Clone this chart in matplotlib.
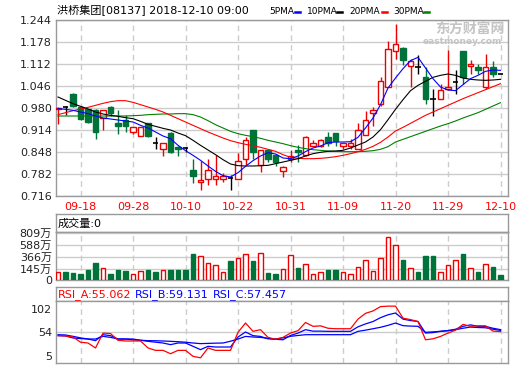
import matplotlib
matplotlib.use("Agg")
import matplotlib.pyplot as plt
from matplotlib.lines import Line2D

plt.rcParams['font.family'] = ['DejaVu Sans', 'Noto Sans CJK SC']

# candle data, one entry per trading day
opens = [0.977, 0.983, 1.023, 0.983, 0.976, 0.975, 0.950, 0.984, 0.936, 0.943,
         0.908, 0.896, 0.934, 0.875, 0.858, 0.906, 0.864, 0.860, 0.795, 0.758,
         0.767, 0.767, 0.767, 0.770, 0.767, 0.828, 0.915, 0.810, 0.854, 0.840,
         0.792, 0.828, 0.854, 0.838, 0.865, 0.865, 0.894, 0.906, 0.865, 0.865,
         0.858, 0.898, 0.966, 0.992, 1.044, 1.150, 1.161, 1.106, 1.103, 1.073,
         1.006, 1.006, 1.036, 1.058, 1.152, 1.106, 1.103, 1.043, 1.103, 1.083]
highs = [0.983, 0.986, 1.026, 0.985, 0.978, 0.976, 0.975, 0.985, 0.974, 0.958,
         0.923, 0.923, 0.936, 0.893, 0.875, 0.907, 0.866, 0.862, 0.826, 0.822,
         0.828, 0.838, 0.786, 0.780, 0.846, 0.892, 0.915, 0.853, 0.856, 0.842,
         0.806, 0.853, 0.868, 0.896, 0.883, 0.886, 0.908, 0.906, 0.876, 0.886,
         0.935, 0.970, 0.983, 1.073, 1.181, 1.232, 1.163, 1.128, 1.140, 1.103,
         1.036, 1.053, 1.153, 1.093, 1.152, 1.123, 1.113, 1.143, 1.121, 1.083]
lows = [0.932, 0.960, 0.983, 0.944, 0.935, 0.886, 0.913, 0.956, 0.903, 0.908,
        0.903, 0.896, 0.894, 0.858, 0.836, 0.846, 0.836, 0.848, 0.756, 0.735,
        0.748, 0.748, 0.758, 0.735, 0.766, 0.808, 0.828, 0.788, 0.818, 0.806,
        0.774, 0.818, 0.818, 0.836, 0.865, 0.862, 0.866, 0.866, 0.858, 0.858,
        0.858, 0.898, 0.926, 0.986, 1.044, 1.128, 1.108, 1.043, 1.083, 0.993,
        0.956, 1.006, 1.033, 1.023, 1.053, 1.083, 1.083, 1.038, 1.073, 1.083]
closes = [0.981, 0.983, 0.985, 0.946, 0.938, 0.907, 0.974, 0.964, 0.925, 0.926,
          0.923, 0.923, 0.896, 0.875, 0.875, 0.848, 0.856, 0.860, 0.777, 0.763,
          0.793, 0.776, 0.776, 0.770, 0.822, 0.883, 0.847, 0.853, 0.828, 0.818,
          0.804, 0.836, 0.848, 0.894, 0.875, 0.884, 0.876, 0.880, 0.876, 0.876,
          0.915, 0.945, 0.975, 1.060, 1.158, 1.171, 1.123, 1.121, 1.103, 1.006,
          1.006, 1.035, 1.043, 1.058, 1.073, 1.113, 1.093, 1.103, 1.083, 1.083]

ma5 = [0.978, 0.976, 0.973, 0.968, 0.963, 0.956, 0.950, 0.947, 0.944, 0.941,
       0.938, 0.928, 0.920, 0.908, 0.896, 0.888, 0.868, 0.852, 0.838, 0.823,
       0.806, 0.790, 0.777, 0.773, 0.786, 0.805, 0.822, 0.836, 0.846, 0.842,
       0.830, 0.828, 0.836, 0.849, 0.860, 0.866, 0.876, 0.878, 0.878, 0.879,
       0.892, 0.920, 0.950, 0.990, 1.040, 1.070, 1.098, 1.122, 1.132, 1.100,
       1.068, 1.043, 1.034, 1.032, 1.050, 1.068, 1.078, 1.090, 1.094, 1.093]
ma10 = [1.013, 1.003, 0.993, 0.985, 0.977, 0.968, 0.962, 0.958, 0.955, 0.951,
        0.948, 0.940, 0.931, 0.925, 0.919, 0.914, 0.905, 0.897, 0.883, 0.868,
        0.854, 0.840, 0.825, 0.812, 0.807, 0.806, 0.806, 0.807, 0.808, 0.813,
        0.818, 0.823, 0.828, 0.836, 0.843, 0.847, 0.850, 0.851, 0.853, 0.860,
        0.869, 0.878, 0.893, 0.915, 0.945, 0.976, 1.005, 1.032, 1.048, 1.060,
        1.072, 1.078, 1.082, 1.078, 1.070, 1.066, 1.064, 1.063, 1.064, 1.066]
ma20 = [0.960, 0.966, 0.972, 0.977, 0.982, 0.988, 0.994, 0.999, 1.002, 1.002,
        0.997, 0.990, 0.983, 0.976, 0.968, 0.958, 0.948, 0.938, 0.928, 0.918,
        0.908, 0.899, 0.890, 0.882, 0.876, 0.871, 0.867, 0.862, 0.856, 0.850,
        0.840, 0.832, 0.829, 0.828, 0.828, 0.829, 0.831, 0.834, 0.838, 0.843,
        0.849, 0.856, 0.865, 0.877, 0.893, 0.911, 0.922, 0.934, 0.946, 0.958,
        0.968, 0.978, 0.988, 0.998, 1.008, 1.017, 1.026, 1.035, 1.044, 1.053]
ma30 = [0.956, 0.956, 0.956, 0.956, 0.956, 0.956, 0.956, 0.956, 0.956, 0.956,
        0.957, 0.958, 0.960, 0.961, 0.962, 0.962, 0.963, 0.963, 0.960, 0.953,
        0.942, 0.930, 0.920, 0.910, 0.903, 0.898, 0.894, 0.889, 0.883, 0.878,
        0.873, 0.867, 0.862, 0.858, 0.855, 0.853, 0.851, 0.850, 0.849, 0.849,
        0.849, 0.850, 0.852, 0.856, 0.864, 0.878, 0.886, 0.894, 0.902, 0.910,
        0.918, 0.926, 0.933, 0.941, 0.950, 0.958, 0.966, 0.976, 0.986, 0.996]

# volume in 万, and bar colour (r = up, g = down)
volume = [96, 103, 84, 66, 133, 266, 163, 60, 133, 115,
          60, 109, 133, 96, 127, 133, 133, 133, 424, 382,
          260, 218, 96, 297, 345, 418, 297, 436, 84, 60,
          145, 400, 163, 236, 54, 90, 127, 127, 90, 54,
          181, 309, 109, 345, 728, 582, 315, 163, 96, 388,
          388, 90, 218, 309, 424, 163, 96, 236, 187, 42]
vol_side = "rggggg" "rgggrr" "ggrggg" "grrrrg" "rrgrgg" "rrgrrr" "ggrrrr" "rrrrgr" "gggrrr" "grgrgg"

rsi_a = [46.6, 46, 43.8, 33, 31.3, 21, 52, 51, 37, 35.5,
         35.5, 35.5, 21, 16, 16, 9, 16, 16, 3.6, 0.5,
         21, 16, 16, 16, 53.5, 72.9, 55.6, 59, 43, 39,
         43, 52, 57, 74, 66, 67, 62, 61, 61, 61,
         81, 93, 98, 107, 108, 108, 83, 80, 76, 38,
         40, 45, 52, 58, 70, 66, 67, 67, 56, 55.062]
rsi_b = [46.6, 46, 41.7, 40.5, 39.6, 36.2, 48.6, 46.6, 39.6, 39.6,
         39.6, 37, 34.8, 33, 31.3, 27.9, 31.3, 31.3, 24.4, 17.5,
         24.4, 23, 23, 23, 43.8, 54.2, 46.6, 45, 40, 39,
         38, 47, 52, 59, 56, 56, 55.6, 55.6, 55.6, 55.6,
         65, 71, 76, 84, 90, 93.7, 81, 78, 76, 52,
         53, 55.6, 57, 60, 66, 69, 66, 66, 62, 59.131]
rsi_c = [48.6, 48, 45.2, 42, 39.6, 39.6, 45.2, 43, 39.6, 39.6,
         38, 37, 36.2, 36, 35.5, 34.8, 34, 33, 31.3, 30,
         30.5, 31, 31.3, 35, 39.6, 45, 43.8, 43, 41, 39.6,
         42, 45.2, 47, 48.6, 48.6, 48.6, 48.6, 48.6, 48.6, 48.6,
         55.6, 58, 61, 64, 68, 72.9, 67.4, 66.5, 66, 53.5,
         54.5, 55.6, 57, 59, 62, 64.5, 63.5, 63, 60, 57.457]

date_idx = [3, 10, 17, 24, 31, 38, 45, 52, 59]
date_labels = ['09-18', '09-28', '10-10', '10-22', '10-31', '11-09', '11-20', '11-29', '12-10']
price_ticks = [0.716, 0.782, 0.848, 0.914, 0.980, 1.046, 1.112, 1.178, 1.244]
vol_ticks = [145, 366, 588, 809]
rsi_ticks = [5, 54, 102]

RED = '#ee0000'
GREEN = '#00733a'
GRID = '#cccccc'
BORDER = '#999999'
W, H = 520, 365

fig = plt.figure(figsize=(W / 100, H / 100), dpi=100)


def panel(l, t, r, b):
    ax = fig.add_axes([l / W, 1 - b / H, (r - l) / W, (b - t) / H])
    for s in ax.spines.values():
        s.set_color(BORDER)
        s.set_linewidth(1)
    ax.set_xlim(-0.27, 60.0)
    return ax


def vdash(ax):
    for i in date_idx:
        ax.axvline(i, color=GRID, lw=1, ls=(0, (4, 3)), zorder=0)


x = list(range(len(closes)))

# ---- price panel
ax = panel(56, 20, 508, 196)
ax.set_ylim(0.716, 1.244)
ax.set_yticks(price_ticks, [f'{v:.3f}' for v in price_ticks])
ax.set_xticks(date_idx, date_labels)
ax.tick_params(axis='y', length=0, pad=3, labelsize=8, labelcolor='#222222')
ax.tick_params(axis='x', length=0, pad=4, labelsize=8, labelcolor='red')
ax.yaxis.grid(True, color=GRID, lw=1, zorder=0)
ax.set_axisbelow(True)
vdash(ax)

for i in x:
    o, h, l, c = opens[i], highs[i], lows[i], closes[i]
    if c > o:
        col = RED
    elif c < o:
        col = GREEN
    else:
        col = 'black'
    ax.vlines(i, l, h, color=col, lw=1, zorder=2)
    if c == o:
        ax.hlines(o, i - 0.38, i + 0.38, color=col, lw=1.2, zorder=3)
    else:
        ax.bar(i, abs(c - o), bottom=min(o, c), width=0.72,
               facecolor='white' if c > o else GREEN, edgecolor=col, lw=1, zorder=3)

ax.plot(x, ma30, color='#008000', lw=0.8, zorder=4)
ax.plot(x, ma20, color='#ff0000', lw=0.8, zorder=4)
ax.plot(x, ma10, color='black', lw=0.8, zorder=4)
ax.plot(x, ma5, color='#0000ff', lw=0.8, zorder=4)

# header line and legend
fig.text(57 / W, 1 - 11 / H, '洪桥集团[08137] 2018-12-10 09:00', fontsize=8, va='center')
legend = [('5PMA', 269, 295, '#0000ff'), ('10PMA', 307, 337, 'black'),
          ('20PMA', 349, 382, '#ff0000'), ('30PMA', 393, 424, '#008000')]
for name, tx, dx, col in legend:
    fig.text(tx / W, 1 - 11 / H, name, fontsize=6.5, va='center')
    fig.add_artist(Line2D([dx / W, (dx + 5) / W], [1 - 12 / H, 1 - 12 / H],
                          color=col, lw=1.8, transform=fig.transFigure))

# watermark
fig.text(470 / W, 1 - 29 / H, '东方财富网', fontsize=10, fontweight='bold',
         color='#c4c4c4', ha='center', va='center')
fig.text(462 / W, 1 - 41 / H, 'eastmoney.com', fontsize=6.5, fontweight='bold',
         color='#c4c4c4', ha='center', va='center')

# ---- volume panel
hv = panel(56, 214, 508, 232)
hv.set_xticks([])
hv.set_yticks([])
hv.text(0.004, 0.45, '成交量:0', transform=hv.transAxes, fontsize=8, va='center')

av = panel(56, 232, 508, 280)
vmin = -49
av.set_ylim(vmin, 825)
av.set_yticks([vmin] + vol_ticks, ['0'] + [f'{v}万' for v in vol_ticks])
av.set_xticks([])
av.tick_params(axis='y', length=0, pad=3, labelsize=8, labelcolor='#222222')
av.yaxis.grid(True, color=GRID, lw=1, zorder=0)
av.set_axisbelow(True)
vdash(av)
for i in x:
    up = vol_side[i] == 'r'
    av.bar(i, volume[i] - vmin, bottom=vmin, width=0.66,
           facecolor='white' if up else GREEN, edgecolor=RED if up else GREEN,
           lw=1, zorder=3)

# ---- RSI panel
hr = panel(56, 287, 508, 301)
hr.set_xticks([])
hr.set_yticks([])
fig.text(58 / W, 1 - 294.5 / H, f'RSI_A:{rsi_a[-1]:.3f}', fontsize=8, color='#ff0000', va='center')
fig.text(135 / W, 1 - 294.5 / H, f'RSI_B:{rsi_b[-1]:.3f}', fontsize=8, color='#0000ff', va='center')
fig.text(213 / W, 1 - 294.5 / H, f'RSI_C:{rsi_c[-1]:.3f}', fontsize=8, color='#0000ff', va='center')

ar = panel(56, 301, 508, 363)
ar.set_ylim(-10.3, 118.7)
ar.set_yticks(rsi_ticks, [str(v) for v in rsi_ticks])
ar.set_xticks([])
ar.tick_params(axis='y', length=0, pad=3, labelsize=8, labelcolor='#222222')
ar.axhline(54, color=GRID, lw=1, zorder=0)
vdash(ar)
ar.plot(x, rsi_c, color='#0000ff', lw=0.9)
ar.plot(x, rsi_b, color='#0000ff', lw=0.9)
ar.plot(x, rsi_a, color='#ff0000', lw=0.9)

fig.savefig('out.png', dpi=100)
